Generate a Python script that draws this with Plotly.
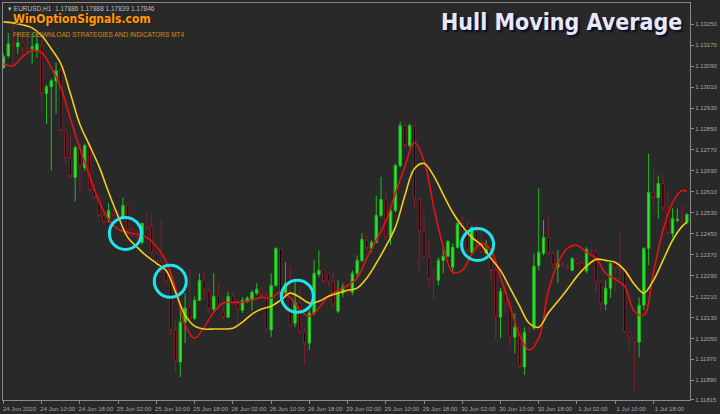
import plotly.graph_objects as go

# ---------------- data (EURUSD H1) ----------------
open_ = [1.13084,1.13129,1.13175,1.13164,1.13179,1.13160,1.13156,1.13149,1.13168,1.12985,
 1.13011,1.13034,1.13072,1.12844,1.12737,1.12665,1.12779,1.12703,1.12787,1.12615,
 1.12588,1.12520,1.12508,1.12535,1.12528,1.12512,1.12558,1.12463,1.12451,1.12417,
 1.12482,1.12478,1.12375,1.12341,1.12303,1.12268,1.12082,1.11960,1.12112,1.12169,
 1.12127,1.12196,1.12272,1.12230,1.12162,1.12211,1.12150,1.12131,1.12211,1.12181,
 1.12158,1.12192,1.12200,1.12223,1.12238,1.12215,1.12082,1.12253,1.12394,1.12223,
 1.12223,1.12108,1.12185,1.12074,1.12032,1.12147,1.12295,1.12314,1.12299,1.12268,
 1.12154,1.12223,1.12246,1.12227,1.12299,1.12348,1.12425,1.12394,1.12417,1.12520,
 1.12581,1.12436,1.12539,1.12710,1.12863,1.12787,1.12863,1.12581,1.12459,1.12360,
 1.12284,1.12272,1.12348,1.12364,1.12322,1.12398,1.12489,1.12474,1.12379,1.12459,
 1.12417,1.12375,1.12379,1.12310,1.12131,1.12230,1.12185,1.12055,1.12089,1.11941,
 1.12089,1.12089,1.12329,1.12375,1.12436,1.12375,1.12322,1.12337,1.12326,1.12310,
 1.12352,1.12337,1.12307,1.12387,1.12383,1.12265,1.12181,1.12242,1.12337,1.12318,
 1.12310,1.12074,1.12051,1.12036,1.12177,1.12394,1.12608,1.12588,1.12642,1.12547,
 1.12451,1.12501,1.12505,1.12493]
high_ = [1.13137,1.13217,1.13251,1.13217,1.13206,1.13202,1.13217,1.13217,1.13187,1.13019,
 1.13042,1.13103,1.13084,1.12855,1.12825,1.12787,1.12798,1.12794,1.12806,1.12642,
 1.12604,1.12531,1.12566,1.12547,1.12539,1.12588,1.12566,1.12474,1.12463,1.12493,
 1.12531,1.12528,1.12387,1.12508,1.12329,1.12303,1.12120,1.12158,1.12223,1.12318,
 1.12211,1.12299,1.12303,1.12246,1.12299,1.12261,1.12207,1.12227,1.12223,1.12196,
 1.12207,1.12211,1.12234,1.12261,1.12246,1.12227,1.12299,1.12397,1.12398,1.12341,
 1.12322,1.12265,1.12246,1.12093,1.12158,1.12348,1.12387,1.12318,1.12303,1.12299,
 1.12272,1.12261,1.12253,1.12310,1.12367,1.12451,1.12440,1.12425,1.12596,1.12668,
 1.12615,1.12550,1.12718,1.12878,1.12870,1.12870,1.12867,1.12588,1.12531,1.12417,
 1.12322,1.12360,1.12398,1.12425,1.12413,1.12493,1.12520,1.12501,1.12478,1.12489,
 1.12463,1.12425,1.12394,1.12322,1.12242,1.12284,1.12196,1.12147,1.12093,1.12093,
 1.12097,1.12375,1.12623,1.12501,1.12520,1.12387,1.12387,1.12345,1.12337,1.12360,
 1.12360,1.12348,1.12398,1.12394,1.12394,1.12272,1.12272,1.12341,1.12341,1.12451,
 1.12318,1.12082,1.12055,1.12207,1.12398,1.12756,1.12699,1.12672,1.12672,1.12615,
 1.12547,1.12547,1.12558,1.12528]
low_ = [1.13080,1.13122,1.13084,1.13137,1.13129,1.13141,1.13099,1.13122,1.12912,1.12870,
 1.12691,1.12909,1.12832,1.12718,1.12665,1.12573,1.12608,1.12691,1.12604,1.12577,
 1.12512,1.12482,1.12493,1.12505,1.12497,1.12508,1.12455,1.12436,1.12425,1.12409,
 1.12467,1.12367,1.12333,1.12299,1.12253,1.12063,1.11922,1.11903,1.12032,1.12120,
 1.12120,1.12192,1.12196,1.12147,1.12147,1.12158,1.12120,1.12127,1.12177,1.12093,
 1.12147,1.12185,1.12158,1.12215,1.12207,1.12074,1.12055,1.12246,1.12196,1.12207,
 1.12089,1.12093,1.12070,1.11948,1.12006,1.12139,1.12284,1.12261,1.12246,1.12169,
 1.12147,1.12207,1.12211,1.12215,1.12284,1.12341,1.12379,1.12379,1.12413,1.12512,
 1.12425,1.12406,1.12531,1.12703,1.12779,1.12779,1.12550,1.12303,1.12356,1.12246,
 1.12196,1.12253,1.12299,1.12360,1.12299,1.12394,1.12451,1.12379,1.12375,1.12398,
 1.12375,1.12371,1.12272,1.12044,1.12051,1.12147,1.12006,1.11994,1.11937,1.11910,
 1.12074,1.12082,1.12310,1.12367,1.12367,1.12318,1.12261,1.12318,1.12310,1.12307,
 1.12333,1.12303,1.12299,1.12375,1.12223,1.12150,1.12158,1.12204,1.12227,1.12272,
 1.12070,1.12006,1.11846,1.11979,1.12158,1.12329,1.12539,1.12508,1.12539,1.12448,
 1.12436,1.12493,1.12489,1.12486]
close_ = [1.13126,1.13175,1.13168,1.13179,1.13156,1.13152,1.13164,1.13175,1.12985,1.13011,
 1.13034,1.13072,1.12844,1.12737,1.12668,1.12779,1.12707,1.12787,1.12615,1.12588,
 1.12520,1.12493,1.12539,1.12520,1.12508,1.12558,1.12463,1.12444,1.12436,1.12489,
 1.12470,1.12375,1.12341,1.12303,1.12265,1.12082,1.11960,1.12112,1.12166,1.12127,
 1.12196,1.12272,1.12234,1.12162,1.12211,1.12177,1.12131,1.12211,1.12181,1.12158,
 1.12196,1.12204,1.12227,1.12238,1.12215,1.12082,1.12253,1.12394,1.12207,1.12261,
 1.12097,1.12188,1.12074,1.12032,1.12147,1.12299,1.12310,1.12268,1.12265,1.12177,
 1.12227,1.12246,1.12223,1.12299,1.12348,1.12428,1.12394,1.12417,1.12520,1.12581,
 1.12436,1.12539,1.12710,1.12863,1.12787,1.12863,1.12585,1.12459,1.12360,1.12276,
 1.12272,1.12348,1.12364,1.12421,1.12398,1.12489,1.12455,1.12387,1.12474,1.12425,
 1.12379,1.12390,1.12310,1.12131,1.12230,1.12181,1.12055,1.12093,1.11941,1.12074,
 1.12082,1.12326,1.12379,1.12436,1.12375,1.12329,1.12337,1.12329,1.12318,1.12356,
 1.12337,1.12310,1.12390,1.12383,1.12265,1.12181,1.12242,1.12337,1.12318,1.12310,
 1.12074,1.12051,1.12036,1.12177,1.12394,1.12608,1.12588,1.12642,1.12547,1.12451,
 1.12508,1.12505,1.12493,1.12524]
bars = list(range(len(close_)))

# Hull moving averages, read every second bar
hma_bars = list(range(0, 143, 2)) + [143]
hma_slow = [1.13259,1.13255,1.13248,1.13236,1.13206,1.13156,1.13099,1.12985,1.12867,1.12787,
 1.12707,1.12608,1.12516,1.12436,1.12398,1.12364,1.12337,1.12310,1.12227,1.12139,
 1.12097,1.12086,1.12086,1.12086,1.12089,1.12112,1.12143,1.12162,1.12173,1.12196,
 1.12223,1.12207,1.12185,1.12192,1.12211,1.12223,1.12234,1.12242,1.12280,1.12337,
 1.12402,1.12474,1.12596,1.12699,1.12718,1.12672,1.12600,1.12531,1.12478,1.12436,
 1.12406,1.12356,1.12310,1.12242,1.12173,1.12108,1.12093,1.12147,1.12192,1.12238,
 1.12287,1.12326,1.12352,1.12348,1.12341,1.12310,1.12257,1.12223,1.12272,1.12348,
 1.12425,1.12478,1.12493]
hma_fast = [1.13099,1.13091,1.13126,1.13149,1.13141,1.13084,1.13008,1.12889,1.12775,1.12672,
 1.12573,1.12505,1.12467,1.12455,1.12448,1.12436,1.12402,1.12345,1.12242,1.12101,
 1.12051,1.12093,1.12150,1.12185,1.12188,1.12188,1.12196,1.12207,1.12204,1.12227,
 1.12207,1.12158,1.12135,1.12166,1.12211,1.12234,1.12253,1.12280,1.12356,1.12425,
 1.12497,1.12604,1.12707,1.12798,1.12729,1.12554,1.12402,1.12303,1.12310,1.12371,
 1.12413,1.12387,1.12284,1.12173,1.12063,1.12006,1.12051,1.12230,1.12337,1.12394,
 1.12406,1.12379,1.12356,1.12299,1.12276,1.12249,1.12154,1.12139,1.12303,1.12463,
 1.12569,1.12615,1.12611]

# highlighted crossings (bar, price)
circle_bars = [25.5, 34.9, 61.5, 99.2]
circle_prices = [1.12451, 1.12268, 1.12211, 1.12409]

x_tick_bars = list(range(0, 137, 8))
x_tick_text = ["24 Jun 2020", "24 Jun 10:00", "24 Jun 18:00", "25 Jun 02:00", "25 Jun 10:00",
               "25 Jun 18:00", "26 Jun 02:00", "26 Jun 10:00", "26 Jun 18:00", "29 Jun 02:00",
               "29 Jun 10:00", "29 Jun 18:00", "30 Jun 02:00", "30 Jun 10:00", "30 Jun 18:00",
               "1 Jul 02:00", "1 Jul 10:00", "1 Jul 18:00"]
y_tick_vals = [1.13250, 1.13170, 1.13090, 1.13010, 1.12930, 1.12850, 1.12770, 1.12690, 1.12610,
               1.12530, 1.12450, 1.12370, 1.12290, 1.12210, 1.12130, 1.12050, 1.11970, 1.11890,
               1.11815]
y_tick_text = ["%.5f" % v for v in y_tick_vals]

# ---------------- figure ----------------
BG = "#292929"
AX = "#8a8a8a"
TXT = "#a6a6a6"

fig = go.Figure()
fig.add_trace(go.Candlestick(
    x=bars, open=open_, high=high_, low=low_, close=close_,
    increasing=dict(line=dict(color="#1fbf1f", width=1), fillcolor="#27ee27"),
    decreasing=dict(line=dict(color="#7d1f2d", width=1), fillcolor="#150707"),
    whiskerwidth=0, hoverinfo="skip", showlegend=False))
fig.add_trace(go.Scatter(x=hma_bars, y=hma_fast, mode="lines", line=dict(color="#e01414", width=1.6, shape="spline"),
                         hoverinfo="skip", showlegend=False))
fig.add_trace(go.Scatter(x=hma_bars, y=hma_slow, mode="lines", line=dict(color="#f2cc18", width=1.6, shape="spline"),
                         hoverinfo="skip", showlegend=False))

for cx, cy in zip(circle_bars, circle_prices):
    fig.add_shape(type="circle", xref="x", yref="y", xsizemode="pixel", ysizemode="pixel",
                  xanchor=cx, yanchor=cy, x0=-16, x1=16, y0=-16, y1=16,
                  line=dict(color="#1fe3ee", width=3))

fig.add_annotation(xref="paper", yref="paper", x=0.004, y=1.0, xanchor="left", yanchor="top",
                   text="▾ EURUSD,H1  1.17886 1.17888 1.17839 1.17846", showarrow=False,
                   font=dict(family="Liberation Sans, Arial, sans-serif", size=6.5, color="#bdbdbd"))
fig.add_annotation(xref="paper", yref="paper", x=0.011, y=0.982, xanchor="left", yanchor="top",
                   text="<b>WinOptionSignals.com</b>", showarrow=False,
                   font=dict(family="Liberation Sans Narrow, DejaVu Sans Condensed, sans-serif", size=12,
                             color="#ff9a10", shadow="1px 1px 1px #3a2000"))
fig.add_annotation(xref="paper", yref="paper", x=0.012, y=0.935, xanchor="left", yanchor="top",
                   text="FREE DOWNLOAD STRATEGIES AND INDICATORS MT4", showarrow=False,
                   font=dict(family="Liberation Sans, Arial, sans-serif", size=6.5, color="#d98a1c"))
fig.add_annotation(xref="paper", yref="paper", x=0.9915, y=0.99, xanchor="right", yanchor="top",
                   text="<b>Hull Moving Average</b>", showarrow=False,
                   font=dict(family="Liberation Sans Narrow, DejaVu Sans Condensed, sans-serif", size=23,
                             color="#e8e8fb", shadow="2px 2px 2px #0a0a20"))

fig.update_layout(
    width=720, height=414,
    margin=dict(l=2, r=28, t=2, b=14),
    paper_bgcolor=BG, plot_bgcolor=BG,
    showlegend=False,
    font=dict(family="Liberation Sans, Arial, sans-serif", size=6, color=TXT),
    xaxis=dict(range=[-0.1, 143.65], rangeslider=dict(visible=False), showgrid=False, zeroline=False,
               tickmode="array", tickvals=x_tick_bars, ticktext=x_tick_text,
               ticks="outside", ticklen=3, tickcolor=AX, ticklabelshift=16, ticklabelstandoff=0,
               tickfont=dict(size=6, color=TXT),
               showline=True, linecolor=AX, linewidth=1, mirror=True),
    yaxis=dict(range=[1.118149, 1.13331], side="right", showgrid=False, zeroline=False,
               tickmode="array", tickvals=y_tick_vals, ticktext=y_tick_text,
               ticks="outside", ticklen=3, tickcolor=AX, tickfont=dict(size=6, color=TXT),
               showline=True, linecolor=AX, linewidth=1, mirror=True),
)

fig.write_html("out.html", config={"displayModeBar": False},
               post_script="document.body.style.margin='0';document.body.style.background='%s';" % BG)
